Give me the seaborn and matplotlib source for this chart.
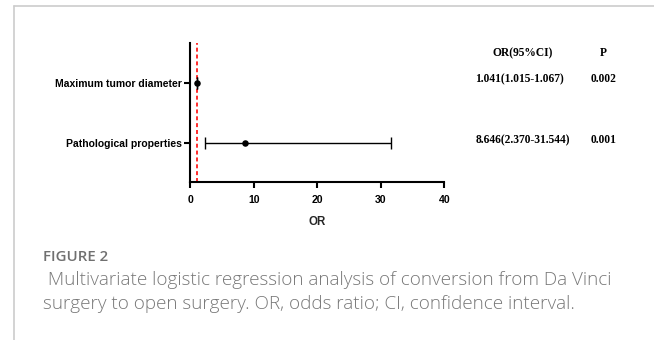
import matplotlib
matplotlib.use("Agg")
import matplotlib.pyplot as plt
import seaborn as sns
import pandas as pd
from matplotlib.lines import Line2D

# ---- data ----
variables = ["Maximum tumor diameter", "Pathological properties"]
or_values = [1.041, 8.646]
ci_low = [1.015, 2.370]
ci_high = [1.067, 31.544]
or_text = ["1.041(1.015-1.067)", "8.646(2.370-31.544)"]
p_text = ["0.002", "0.001"]
x_ticks = [0, 10, 20, 30, 40]
ref_value = 1

W, H = 654, 340
sns.set_theme(style="white")
plt.rcParams["font.family"] = ["Liberation Sans", "DejaVu Sans"]

fig = plt.figure(figsize=(W / 100, H / 100), dpi=100)
fig.patch.set_facecolor("white")

def fx(px):
    return px / W

def fy(py):
    return 1 - py / H

ax = fig.add_axes([fx(190.3), fy(182.3), 254 / W, 139.6 / H])
ax.set_facecolor("white")

df = pd.DataFrame({"var": variables, "OR": or_values,
                   "lo": ci_low, "hi": ci_high})
df["pos"] = range(len(df))

ax.axvline(ref_value, color="#ff1a1a", lw=1.3, ls=(0, (2.2, 1.6)), zorder=1)
ax.errorbar(df["OR"], df["pos"],
            xerr=[df["OR"] - df["lo"], df["hi"] - df["OR"]],
            fmt="none", ecolor="black", elinewidth=1.0, capsize=4.2,
            capthick=1.0, zorder=2)
sns.scatterplot(data=df, x="OR", y="pos", ax=ax, color="black", s=22,
                edgecolor="black", linewidth=0, zorder=3, legend=False)

ax.set_xlim(0, 40)
ax.set_ylim(1.65, -0.677)
ax.set_xticks(x_ticks)
ax.set_xticklabels([str(t) for t in x_ticks], fontsize=7.6, fontweight="bold")
ax.set_yticks(df["pos"])
ax.set_yticklabels(df["var"], fontsize=7.5, fontweight="bold")
ax.set_xlabel("OR", fontsize=8.3, fontweight="bold", labelpad=8)
ax.set_ylabel("")

for s in ["top", "right"]:
    ax.spines[s].set_visible(False)
for s in ["left", "bottom"]:
    ax.spines[s].set_linewidth(1.5)
    ax.spines[s].set_color("black")
ax.tick_params(axis="x", direction="out", length=4, width=1.5, pad=5,
               colors="black", bottom=True)
ax.tick_params(axis="y", direction="out", length=4, width=1.5, pad=2,
               colors="black", left=True)

# ---- table ----
serif = ["Liberation Serif", "DejaVu Serif"]
fig.text(fx(523), fy(53.3), "OR(95%CI)", ha="center", va="center",
         fontsize=8.3, fontweight="bold", family=serif, color="black")
fig.text(fx(603), fy(53.3), "P", ha="center", va="center",
         fontsize=8.3, fontweight="bold", family=serif, color="black")
row_y = [79, 140]
for t, p, yy in zip(or_text, p_text, row_y):
    fig.text(fx(475.5), fy(yy), t, ha="left", va="center",
             fontsize=8.3, fontweight="bold", family=serif, color="black")
    fig.text(fx(603.5), fy(yy), p, ha="center", va="center",
             fontsize=8.3, fontweight="bold", family=serif, color="black")

# ---- frame of the page ----
fig.add_artist(Line2D([fx(13.5), 1], [fy(6), fy(6)], color="#cccccc", lw=1.2))
fig.add_artist(Line2D([fx(13.5), fx(13.5)], [fy(6), 0], color="#cccccc", lw=1.2))

# ---- caption ----
cap = ["Open Sans", "DejaVu Sans"]
fig.text(fx(43.3), fy(261), "FIGURE 2", ha="left", va="baseline",
         fontsize=10.8, fontweight="semibold", family=cap, color="#707070")
fig.text(fx(43.3), fy(285),
         " Multivariate logistic regression analysis of conversion from Da Vinci",
         ha="left", va="baseline", fontsize=13.6, fontweight="light",
         family=cap, color="#787878")
fig.text(fx(43.3), fy(309),
         "surgery to open surgery. OR, odds ratio; CI, confidence interval.",
         ha="left", va="baseline", fontsize=13.6, fontweight="light",
         family=cap, color="#787878")

fig.savefig("out.png", dpi=100, facecolor="white")
